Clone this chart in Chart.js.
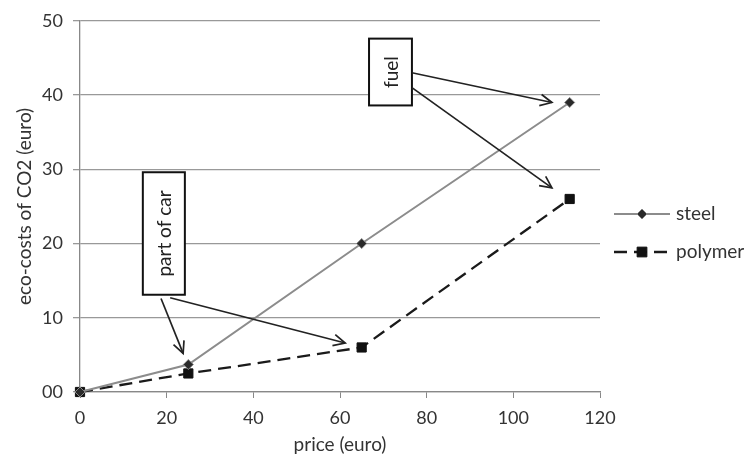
<!DOCTYPE html>
<html>
<head>
<meta charset="utf-8">
<script src="https://cdn.jsdelivr.net/npm/chart.js@4/dist/chart.umd.min.js"></script>
<style>
html,body{margin:0;padding:0;background:#fff;}
#wrap{width:748px;height:462px;position:relative;}
</style>
</head>
<body>
<div id="wrap"><canvas id="c" width="748" height="462"></canvas></div>
<script>
// ---- data ----
const seriesNames = ["steel", "polymer"];
const priceX = [0, 25, 65, 113];
const steelY = [0, 3.7, 20, 39];
const polymerY = [0, 2.5, 6, 26];
const yTickLabels = ["00", "10", "20", "30", "40", "50"];
const xTickLabels = ["0", "20", "40", "60", "80", "100", "120"];
const xTitle = "price (euro)";
const yTitle = "eco-costs of CO2 (euro)";
const noteLabels = ["part of car", "fuel"];

// annotation geometry in data units
const notes = [
  { text: noteLabels[0], box: [14.5, 29.6, 24.2, 13.1],
    arrows: [[18.7, 12.6, 23.8, 5.2], [20.8, 12.7, 61.2, 6.6]] },
  { text: noteLabels[1], box: [66.7, 47.6, 76.6, 38.6],
    arrows: [[76.6, 43.0, 108.9, 39.0], [76.6, 41.0, 108.9, 27.5]] }
];

const FONT = "Lato, 'Open Sans', sans-serif";
const FS = 18;
const pts = (xs, ys) => xs.map((x, i) => ({ x: x, y: ys[i] }));

const annotationPlugin = {
  id: 'notes',
  afterDatasetsDraw(chart) {
    const { ctx, scales: { x, y } } = chart;
    ctx.save();
    notes.forEach(n => {
      const x1 = x.getPixelForValue(n.box[0]), y1 = y.getPixelForValue(n.box[1]);
      const x2 = x.getPixelForValue(n.box[2]), y2 = y.getPixelForValue(n.box[3]);
      ctx.fillStyle = '#fff';
      ctx.fillRect(x1, y1, x2 - x1, y2 - y1);
      ctx.strokeStyle = '#111';
      ctx.lineWidth = 2;
      ctx.strokeRect(x1, y1, x2 - x1, y2 - y1);
      ctx.save();
      ctx.translate((x1 + x2) / 2, (y1 + y2) / 2);
      ctx.rotate(-Math.PI / 2);
      ctx.fillStyle = '#222';
      ctx.font = "19px " + FONT;
      ctx.textAlign = 'center';
      ctx.textBaseline = 'middle';
      ctx.fillText(n.text, 0, 1);
      ctx.restore();
      n.arrows.forEach(a => {
        const ax = x.getPixelForValue(a[0]), ay = y.getPixelForValue(a[1]);
        const bx = x.getPixelForValue(a[2]), by = y.getPixelForValue(a[3]);
        ctx.strokeStyle = '#222';
        ctx.lineWidth = 1.7;
        ctx.beginPath();
        ctx.moveTo(ax, ay); ctx.lineTo(bx, by); ctx.stroke();
        const ang = Math.atan2(by - ay, bx - ax);
        const L = 13, w = 0.45;
        ctx.beginPath();
        ctx.moveTo(bx - L * Math.cos(ang - w), by - L * Math.sin(ang - w));
        ctx.lineTo(bx, by);
        ctx.lineTo(bx - L * Math.cos(ang + w), by - L * Math.sin(ang + w));
        ctx.stroke();
      });
    });
    ctx.restore();
  }
};

const legendPlugin = {
  id: 'sideLegend',
  afterDraw(chart) {
    const { ctx, chartArea } = chart;
    ctx.save();
    const x0 = chartArea.right + 14;
    const cy = [214, 252];
    chart.data.datasets.forEach((ds, i) => {
      const yy = cy[i];
      ctx.strokeStyle = ds.borderColor;
      ctx.lineWidth = ds.borderWidth;
      ctx.setLineDash(ds.borderDash || []);
      ctx.beginPath(); ctx.moveTo(x0, yy); ctx.lineTo(x0 + 56, yy); ctx.stroke();
      ctx.setLineDash([]);
      const mx = x0 + 28;
      ctx.fillStyle = ds.pointBackgroundColor;
      ctx.strokeStyle = ds.pointBorderColor;
      ctx.lineWidth = 1;
      const r = ds.pointRadius;
      ctx.beginPath();
      if (ds.pointStyle === 'rectRot') {
        ctx.moveTo(mx, yy - r); ctx.lineTo(mx + r, yy); ctx.lineTo(mx, yy + r); ctx.lineTo(mx - r, yy); ctx.closePath();
      } else {
        ctx.rect(mx - r * 0.75, yy - r * 0.75, r * 1.5, r * 1.5);
      }
      ctx.fill(); ctx.stroke();
      ctx.fillStyle = '#333';
      ctx.font = "19px " + FONT;
      ctx.textBaseline = 'middle';
      ctx.textAlign = 'left';
      ctx.fillText(seriesNames[i], x0 + 62, yy);
    });
    ctx.restore();
  }
};

new Chart(document.getElementById('c'), {
  type: 'scatter',
  data: {
    datasets: [
      { label: seriesNames[0], data: pts(priceX, steelY), showLine: true, clip: false,
        borderColor: '#8c8c8c', borderWidth: 2, pointStyle: 'rectRot', pointRadius: 5,
        pointBackgroundColor: '#2a2a2a', pointBorderColor: '#888', pointBorderWidth: 1 },
      { label: seriesNames[1], data: pts(priceX, polymerY), showLine: true, clip: false,
        borderColor: '#1a1a1a', borderWidth: 2.3, borderDash: [13, 7], pointStyle: 'rect', pointRadius: 6.5,
        pointBackgroundColor: '#111', pointBorderColor: '#111', pointBorderWidth: 1 }
    ]
  },
  options: {
    responsive: false,
    animation: false,
    layout: { padding: { top: 19, right: 148, left: 0, bottom: 0 } },
    plugins: { legend: { display: false }, tooltip: { enabled: false } },
    scales: {
      x: {
        type: 'linear', min: 0, max: 120,
        afterFit(s) { s.height = 70; },
        ticks: { stepSize: 20, color: '#333', font: { family: FONT, size: FS }, padding: 9,
          callback: (v, i) => xTickLabels[i] },
        grid: { drawOnChartArea: false, drawTicks: true, tickLength: 6, color: '#888' },
        border: { color: '#888', width: 1.3 },
        title: { display: true, text: xTitle, color: '#333', font: { family: FONT, size: 19 },
          padding: { top: 0, bottom: 6 } }
      },
      y: {
        type: 'linear', min: 0, max: 50,
        afterFit(s) { s.width = 80; },
        ticks: { stepSize: 10, color: '#333', font: { family: FONT, size: FS }, padding: 10,
          callback: (v, i) => yTickLabels[i] },
        grid: { color: '#999', lineWidth: 1.3, tickLength: 7 },
        border: { color: '#888', width: 1.3 },
        title: { display: true, text: yTitle, color: '#333', font: { family: FONT, size: 19 },
          padding: { top: 13, bottom: 0 } }
      }
    }
  },
  plugins: [annotationPlugin, legendPlugin]
});
</script>
</body>
</html>
